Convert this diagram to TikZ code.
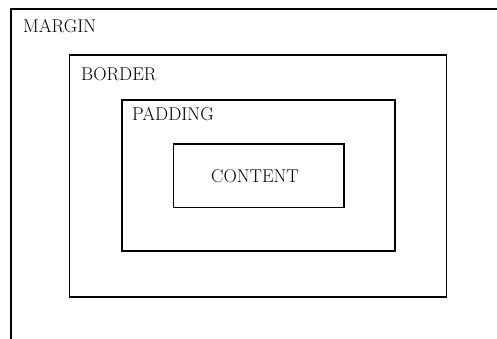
\documentclass[tikz,border=0pt]{standalone}
\tikzset{
  boxline/.style={draw=black, line width=1.7pt},
  lbl/.style={inner sep=0pt, anchor=base west, font=\fontsize{18.5}{22}\selectfont},
}
\begin{document}
\begin{tikzpicture}[x=1pt,y=1pt]
\useasboundingbox (0,0) rectangle (497,339);
\clip (0,0) rectangle (497,339);
\fill[white] (0,0) rectangle (497,339);
\draw[boxline] (11,330) rectangle (520,-20);
\coordinate (margin) at (11,330);
\draw[boxline] (69.5,284) rectangle (446.5,42);
\draw[boxline] (122,239) rectangle (395,88);
\node[boxline, inner sep=0pt, minimum width=170.5pt, minimum height=63.5pt] (content) at (258.75,163.25) {};
\node[lbl] (lmargin) at (23,306) {MARGIN};
\node[lbl] (lborder) at (81,258) {BORDER};
\node[lbl] (lpadding) at (132,218) {PADDING};
\node[inner sep=0pt, anchor=base, font=\fontsize{18.5}{22}\selectfont] (lcontent) at (255,156) {CONTENT};
\end{tikzpicture}
\end{document}
